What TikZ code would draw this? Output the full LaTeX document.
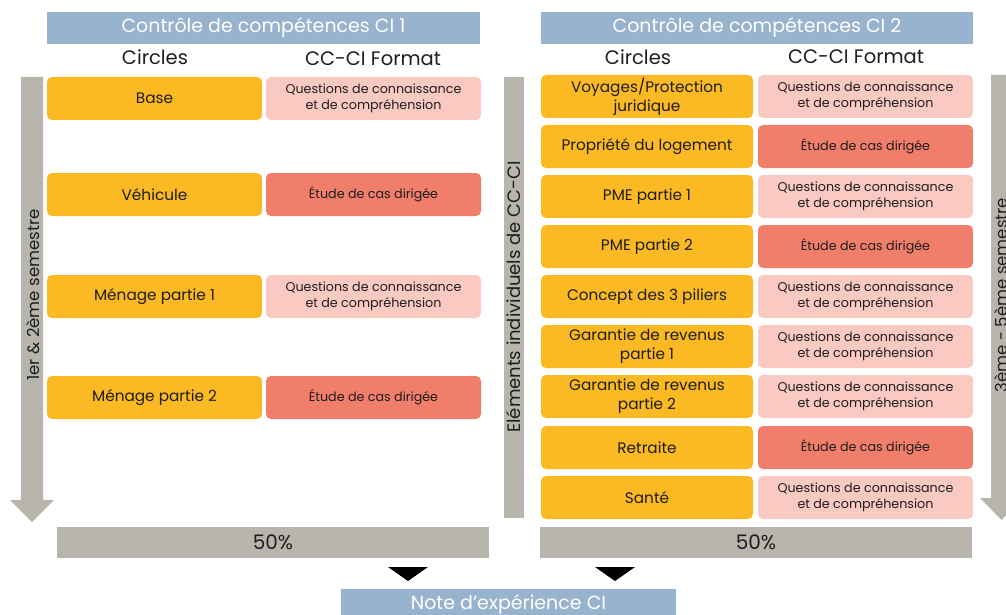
\documentclass[tikz,border=0pt]{standalone}
\usepackage{fontspec}
\setmainfont{Poppins}
\usepackage{tikz}
\usetikzlibrary{positioning}

\definecolor{hdrblue}{HTML}{98B3CE}
\definecolor{ccorange}{HTML}{FBB923}
\definecolor{qpink}{HTML}{F9C9C2}
\definecolor{esalmon}{HTML}{F07E6B}
\definecolor{bargray}{HTML}{B8B5AD}
\definecolor{txtdark}{HTML}{1E1E1E}

\tikzset{
  hdr/.style={fill=hdrblue, text=white, inner sep=0pt, minimum height=32pt,
    font=\fontsize{19}{22}\selectfont},
  colhead/.style={text=txtdark, inner sep=0pt, font=\fontsize{19.5}{22}\selectfont},
  circ/.style={fill=ccorange, text=txtdark, rounded corners=5pt, inner sep=0pt,
    minimum height=43pt, align=center, font=\fontsize{15.3}{19}\selectfont},
  qbox/.style={fill=qpink, text=txtdark, rounded corners=5pt, inner sep=0pt,
    minimum width=215pt, minimum height=43pt, align=center, font=\fontsize{12.7}{16.5}\selectfont},
  ebox/.style={qbox, fill=esalmon},
  pct/.style={fill=bargray, text=txtdark, inner sep=0pt, minimum height=31pt,
    font=\fontsize{20}{22}\selectfont},
  semlabel/.style={rotate=90, text=txtdark, inner sep=0pt, font=\fontsize{16.5}{18}\selectfont}
}

\begin{document}
\begin{tikzpicture}[x=1pt,y=-1pt]
\useasboundingbox (0,0) rectangle (1006,615);

% headers
\node[hdr, minimum width=433pt] (h1) at (263.5,28) {Contrôle de compétences CI 1};
\node[hdr, minimum width=432pt] (h2) at (757,28) {Contrôle de compétences CI 2};
\node[colhead] (c1) at (155,57) {Circles};
\node[colhead] (f1) at (373,59) {CC-CI Format};
\node[colhead] (c2) at (638,57) {Circles};
\node[colhead] (f2) at (856,57) {CC-CI Format};

% left side arrow
\fill[bargray] (21,77) -- (43,77) -- (43,500) -- (54,500) -- (32,522) -- (10,500) -- (21,500) -- cycle;
\node[semlabel] (s1) at (33,295) {1er \& 2ème semestre};

% CI 1
\node[circ, minimum width=215pt] (base) at (154.5,98.5) {Base};
\node[qbox] (fbase) at (373.5,98.5) {Questions de connaissance\\et de compréhension};
\node[circ, minimum width=215pt] (veh) at (154.5,194.5) {Véhicule};
\node[ebox] (fveh) at (373.5,194.5) {Étude de cas dirigée};
\node[circ, minimum width=215pt] (men1) at (154.5,296.5) {Ménage partie 1};
\node[qbox] (fmen1) at (373.5,296.5) {Questions de connaissance\\et de compréhension};
\node[circ, minimum width=215pt] (men2) at (154.5,397.5) {Ménage partie 2};
\node[ebox] (fmen2) at (373.5,397.5) {Étude de cas dirigée};

% middle bar
\fill[bargray] (504,77) rectangle (524,518);
\node[semlabel, font=\fontsize{18}{20}\selectfont] (elem) at (514,297) {Eléments individuels de CC-CI};

% CI 2
\node[circ, minimum width=212pt] (voy) at (647,96.5) {Voyages/Protection\\juridique};
\node[qbox] (fvoy) at (865.5,96.5) {Questions de connaissance\\et de compréhension};
\node[circ, minimum width=212pt] (prop) at (647,146.5) {Propriété du logement};
\node[ebox] (fprop) at (865.5,146.5) {Étude de cas dirigée};
\node[circ, minimum width=212pt] (pme1) at (647,196.5) {PME partie 1};
\node[qbox] (fpme1) at (865.5,196.5) {Questions de connaissance\\et de compréhension};
\node[circ, minimum width=212pt] (pme2) at (647,246.5) {PME partie 2};
\node[ebox] (fpme2) at (865.5,246.5) {Étude de cas dirigée};
\node[circ, minimum width=212pt] (pil) at (647,296.5) {Concept des 3 piliers};
\node[qbox] (fpil) at (865.5,296.5) {Questions de connaissance\\et de compréhension};
\node[circ, minimum width=212pt] (gar1) at (647,346.5) {Garantie de revenus\\partie 1};
\node[qbox] (fgar1) at (865.5,346.5) {Questions de connaissance\\et de compréhension};
\node[circ, minimum width=212pt] (gar2) at (647,396.5) {Garantie de revenus\\partie 2};
\node[qbox] (fgar2) at (865.5,396.5) {Questions de connaissance\\et de compréhension};
\node[circ, minimum width=212pt] (ret) at (647,447.5) {Retraite};
\node[ebox] (fret) at (865.5,447.5) {Étude de cas dirigée};
\node[circ, minimum width=212pt] (san) at (647,497.5) {Santé};
\node[qbox] (fsan) at (865.5,497.5) {Questions de connaissance\\et de compréhension};

% right side arrow
\fill[bargray] (991,75) -- (1012,75) -- (1012,498) -- (1023,498) -- (1001.5,520) -- (980,498) -- (991,498) -- cycle;
\node[semlabel] (s2) at (1001.5,295) {3ème - 5ème semestre};

% percentages
\node[pct, minimum width=432pt] (p1) at (273,542.5) {50\%};
\node[pct, minimum width=432pt] (p2) at (756,542.5) {50\%};

% result
\node[hdr, minimum width=335pt] (note) at (508.5,605) {Note d'expérience CI};
\fill[black] (388,567) -- (428,567) -- (408,581) -- cycle;
\fill[black] (595,567) -- (635,567) -- (615,581) -- cycle;
\end{tikzpicture}
\end{document}
